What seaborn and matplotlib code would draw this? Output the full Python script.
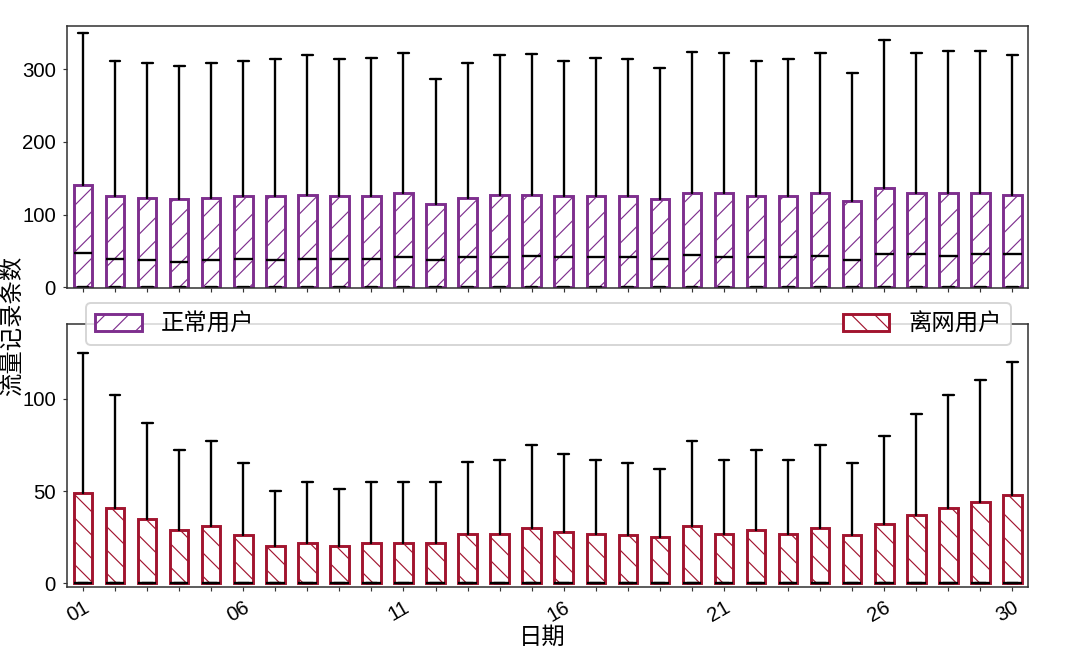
import numpy as np
import matplotlib
matplotlib.use('Agg')
import matplotlib.pyplot as plt
import seaborn as sns
from matplotlib.patches import Patch

# ---------------- data ----------------
days = [f'{d:02d}' for d in range(1, 31)]

normal_q1 = [0] * 30
normal_med = [47, 39, 38, 35, 38, 39, 38, 39, 39, 39, 41, 37, 42, 42, 43,
              41, 41, 41, 39, 45, 42, 41, 41, 43, 38, 46, 46, 43, 46, 46]
normal_q3 = [140, 125, 123, 122, 123, 125, 125, 127, 125, 126, 129, 114, 123, 127, 127,
             125, 126, 125, 121, 129, 129, 125, 125, 129, 118, 136, 129, 129, 129, 127]
normal_whislo = [0] * 30
normal_whishi = [350, 311, 309, 304, 309, 311, 314, 319, 314, 316, 322, 286, 309, 319, 321,
                 311, 316, 314, 301, 324, 322, 311, 314, 322, 295, 340, 322, 325, 325, 319]

churn_q1 = [0] * 30
churn_med = [0] * 30
churn_q3 = [49, 41, 35, 29, 31, 26, 20, 22, 20.5, 22, 22, 22, 26.5, 27, 30,
            28, 27, 26, 25, 31, 27, 29, 27, 30, 26, 32, 37, 41, 44, 48]
churn_whislo = [0] * 30
churn_whishi = [125, 102, 87, 72, 77, 65, 50, 55, 51, 55, 55, 55, 66, 67, 75,
                70, 67, 65, 62, 77, 67, 72, 67, 75, 65, 80, 92, 102, 110, 120]

series_names = ['正常用户', '离网用户']
top_yticks = [0, 100, 200, 300]
bottom_yticks = [0, 50, 100]
shown_tick_labels = ['01', '06', '11', '16', '21', '26', '30']

# ---------------- style ----------------
sns.set_style('ticks')
plt.rcParams['font.family'] = ['Liberation Sans', 'Noto Sans CJK SC', 'DejaVu Sans']
plt.rcParams['hatch.linewidth'] = 0.6
plt.rcParams['axes.unicode_minus'] = False
plt.rcParams['text.color'] = 'black'
plt.rcParams['xtick.color'] = 'black'
plt.rcParams['ytick.color'] = 'black'

PURPLE = '#7E2F8E'
RED = '#A2142F'

DPI = 140
fig = plt.figure(figsize=(1080 / DPI, 648 / DPI), dpi=DPI)
ax1 = fig.add_axes([0.062, 0.5556, 0.8903, 0.4038])
ax2 = fig.add_axes([0.062, 0.0946, 0.8903, 0.4049])


def make_stats(q1, med, q3, lo, hi):
    return [dict(q1=a, med=m, q3=b, whislo=l, whishi=h, label=d)
            for a, m, b, l, h, d in zip(q1, med, q3, lo, hi, days)]


def draw(ax, stats, color, hatch):
    pos = np.arange(len(stats))
    ax.bxp(stats, positions=pos, widths=0.58, capwidths=0.34,
           patch_artist=True, showfliers=False,
           boxprops=dict(facecolor='white', edgecolor=color, linewidth=1.5, hatch=hatch),
           medianprops=dict(color='black', linewidth=1.2),
           whiskerprops=dict(color='black', linewidth=1.2),
           capprops=dict(color='black', linewidth=1.2))
    ax.set_xlim(-0.5, len(stats) - 0.5)
    ax.set_xticks(pos)
    for s in ax.spines.values():
        s.set_linewidth(0.8)
        s.set_color('.2')
    ax.tick_params(axis='both', length=2.2, width=0.6, labelsize=10.5, direction='out',
                   color='.2', labelcolor='black')


draw(ax1, make_stats(normal_q1, normal_med, normal_q3, normal_whislo, normal_whishi), PURPLE, '//')
draw(ax2, make_stats(churn_q1, churn_med, churn_q3, churn_whislo, churn_whishi), RED, '\\\\')

ax1.set_ylim(-1, 359)
ax1.set_yticks(top_yticks)
ax1.set_xticklabels([''] * 30)

ax2.set_ylim(-1.8, 140.3)
ax2.set_yticks(bottom_yticks)
labels = [d if d in shown_tick_labels and (i % 5 == 0 or i == 29) else '' for i, d in enumerate(days)]
ax2.set_xticklabels(labels)
plt.setp(ax2.get_xticklabels(), rotation=30, ha='right', va='top', rotation_mode='anchor')

handles = [Patch(facecolor='white', edgecolor=PURPLE, hatch='//', linewidth=1.5),
           Patch(facecolor='white', edgecolor=RED, hatch='\\\\', linewidth=1.5)]
fig.legend(handles, series_names, loc='center', ncol=2, mode='expand',
           bbox_to_anchor=(0.0796, 0.4691, 0.8565, 0.0617), borderaxespad=0,
           fontsize=12, frameon=True)

fig.text(0.011, 0.497, '流量记录条数', rotation=90, ha='center', va='center', fontsize=12)
fig.text(0.502, 0.017, '日期', ha='center', va='center', fontsize=12)

fig.savefig('out.png', dpi=DPI)
